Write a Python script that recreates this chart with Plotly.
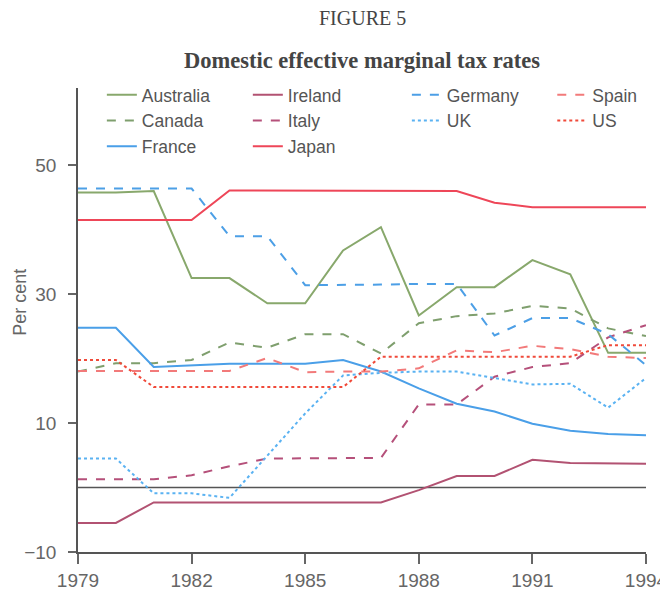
import plotly.graph_objects as go

years = list(range(1979, 1995))

australia = [45.8, 45.8, 46.0, 32.5, 32.5, 28.6, 28.6, 36.8, 40.4, 26.7, 31.1, 31.1, 35.3, 33.1, 20.9, 20.9]
canada = [18.0, 19.3, 19.3, 19.8, 22.5, 21.7, 23.8, 23.8, 20.8, 25.5, 26.6, 27.0, 28.2, 27.8, 24.7, 23.5]
france = [24.8, 24.8, 18.7, 19.0, 19.2, 19.2, 19.2, 19.8, 18.0, 15.4, 13.0, 11.8, 9.9, 8.8, 8.3, 8.1]
ireland = [-5.5, -5.5, -2.3, -2.3, -2.3, -2.3, -2.3, -2.3, -2.3, -0.4, 1.8, 1.8, 4.3, 3.8, 3.8, 3.7]
italy = [1.3, 1.3, 1.3, 1.9, 3.3, 4.5, 4.5, 4.5, 4.6, 12.9, 12.9, 17.2, 18.7, 19.3, 23.3, 25.2]
japan = [41.5, 41.5, 41.5, 41.5, 46.1, 46.1, 46.0, 46.0, 46.0, 46.0, 46.0, 44.2, 43.5, 43.5, 43.5, 43.5]
germany = [46.4, 46.4, 46.4, 46.4, 39.0, 39.0, 31.4, 31.4, 31.5, 31.6, 31.6, 23.6, 26.3, 26.3, 23.8, 19.0]
uk = [4.5, 4.5, -0.9, -0.9, -1.6, 5.0, 11.5, 17.4, 17.8, 18.0, 18.0, 17.0, 16.0, 16.1, 12.4, 17.0]
spain = [18.1, 18.1, 18.1, 18.1, 18.1, 20.1, 17.9, 18.0, 18.0, 18.5, 21.3, 21.0, 22.0, 21.5, 20.3, 20.1]
us = [19.8, 19.8, 15.6, 15.6, 15.6, 15.6, 15.6, 15.6, 20.3, 20.3, 20.3, 20.3, 20.3, 20.3, 22.1, 22.1]

# name, values, colour, dash, which legend column
series = [
    ("Australia", australia, "#88a86c", "solid", "legend"),
    ("Canada", canada, "#7f9f6e", "dash", "legend"),
    ("France", france, "#4a9fe8", "solid", "legend"),
    ("Ireland", ireland, "#b25272", "solid", "legend2"),
    ("Italy", italy, "#b5507a", "dash", "legend2"),
    ("Japan", japan, "#ee4658", "solid", "legend2"),
    ("Germany", germany, "#4c9fe6", "dash", "legend3"),
    ("UK", uk, "#5ab2f2", "dot", "legend3"),
    ("Spain", spain, "#f27a7a", "dash", "legend4"),
    ("US", us, "#f04a3a", "dot", "legend4"),
]

sans = "Liberation Sans, Arial"
serif = "Liberation Serif, Times New Roman"

fig = go.Figure()

# zero line
fig.add_trace(go.Scatter(x=[years[0], years[-1]], y=[0, 0], mode="lines",
                         line=dict(color="#555555", width=1.5), showlegend=False, hoverinfo="skip"))

for name, vals, color, dash, leg in series:
    fig.add_trace(go.Scatter(x=years, y=vals, mode="lines", name=name,
                             line=dict(color=color, width=2, dash=dash), legend=leg))

legend_style = dict(font=dict(family=sans, size=17.5, color="#555555"),
                    bgcolor="rgba(0,0,0,0)", yanchor="top", y=1.024, tracegroupgap=0,
                    itemwidth=30)

# page body has an 8px margin, so the figure is drawn 8px smaller than the window
fig.update_layout(
    width=660, height=584,
    margin=dict(l=70, r=22, t=80, b=40, autoexpand=False),
    paper_bgcolor="white", plot_bgcolor="white",
    legend=dict(x=0.042, **legend_style),
    legend2=dict(x=0.299, **legend_style),
    legend3=dict(x=0.579, **legend_style),
    legend4=dict(x=0.835, **legend_style),
)

fig.add_annotation(text="FIGURE 5", xref="paper", yref="paper", x=0.5, y=1.0, yshift=70,
                   yanchor="middle", showarrow=False,
                   font=dict(family=serif, size=20, color="#444444"))
fig.add_annotation(text="<b>Domestic effective marginal tax rates</b>", xref="paper", yref="paper",
                   x=0.5, y=1.0, yshift=28, yanchor="middle", showarrow=False,
                   font=dict(family=serif, size=22.5, color="#444444"))
# y axis title, sits a bit above the middle of the axis
fig.add_annotation(text="Per cent", xref="paper", yref="paper", x=0, xshift=-58, y=0.537,
                   xanchor="center", yanchor="middle", textangle=-90, showarrow=False,
                   font=dict(family=sans, size=18, color="#666666"))

fig.update_xaxes(range=[1979, 1994], tickvals=[1979, 1982, 1985, 1988, 1991, 1994],
                 ticks="outside", ticklen=10, tickcolor="#666666", tickwidth=1.5,
                 showline=True, linecolor="#555555", linewidth=1.5, showgrid=False, zeroline=False,
                 automargin=False,
                 tickfont=dict(family=sans, size=19, color="#666666"))
fig.update_yaxes(range=[-10, 62], tickvals=[-10, 10, 30, 50],
                 ticks="outside", ticklen=8, tickcolor="#666666", tickwidth=1.5,
                 ticklabelstandoff=8,
                 showline=True, linecolor="#555555", linewidth=1.5, showgrid=False, zeroline=False,
                 automargin=False,
                 tickfont=dict(family=sans, size=19, color="#666666"))

fig.write_html("out.html")
